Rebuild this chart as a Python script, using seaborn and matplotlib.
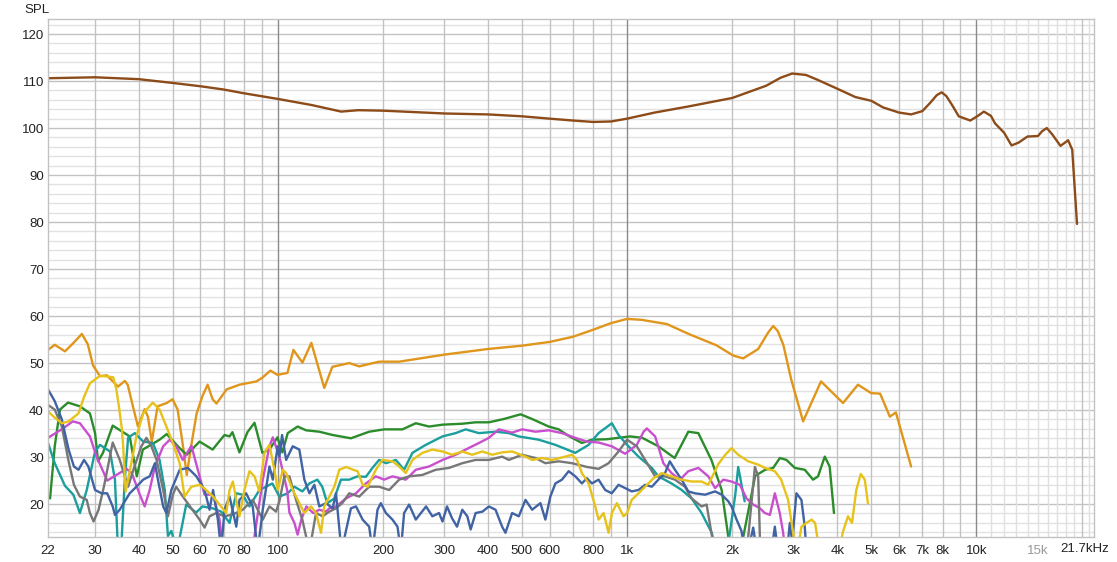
import numpy as np
import pandas as pd
import matplotlib
matplotlib.use('Agg')
import matplotlib.pyplot as plt
import seaborn as sns

# --- data (freq in Hz, SPL in dB) ---
brown_f = [22, 30, 40, 50, 60, 70, 80, 100, 125, 152, 170, 200, 300, 400, 500, 600, 700,
           800, 900, 1000, 1200, 1500, 2000, 2500, 2750, 2968, 3250, 3500, 3960, 4500, 5000,
           5400, 6000, 6500, 7000, 7400, 7700, 7950, 8200, 8500, 8900, 9600, 10100, 10500,
           11000, 11300, 12000, 12600, 13200, 14000, 15000, 15400, 15900, 16500, 17400, 18300,
           18800, 19400]
brown_db = [110.6, 110.8, 110.4, 109.6, 108.9, 108.2, 107.4, 106.2, 104.9, 103.5, 103.8, 103.7,
            103.1, 102.9, 102.5, 102.0, 101.6, 101.3, 101.4, 102.0, 103.3, 104.6, 106.4, 109.0,
            110.7, 111.6, 111.3, 110.3, 108.5, 106.6, 105.8, 104.4, 103.3, 102.9, 103.6, 105.5,
            107.0, 107.6, 106.8, 105.0, 102.5, 101.6, 102.6, 103.5, 102.6, 101.0, 99.0, 96.3,
            96.9, 98.2, 98.3, 99.3, 100.0, 98.6, 96.2, 97.4, 95.4, 79.6]

orange_f = [22, 23.0, 24.6, 25.8, 27.5, 28.6, 29.6, 31.0, 32.4, 34.9, 36.5, 37.2, 38.5, 39.8,
            41.6, 42.5, 43.6, 45.3, 48.1, 50.0, 51.7, 53.4, 54.9, 56.7, 58.6, 60.9, 63.0, 65.1,
            66.8, 71.4, 77.7, 86.9, 90.4, 95.3, 99.8, 106.6, 110.9, 117.7, 124.8, 135.9, 143.3,
            160.2, 171.1, 195.1, 222.6, 300, 400, 500, 600, 700, 800, 900, 1000, 1100, 1300,
            1500, 1800, 2013, 2150, 2373, 2534, 2620, 2700, 2800, 2950, 3190, 3590, 4150, 4580,
            5000, 5300, 5650, 5880, 6500]
orange_db = [52.8, 53.9, 52.5, 54.0, 56.2, 54.0, 49.5, 47.2, 47.4, 45.0, 46.2, 45.4, 40.8, 36.5,
             40.2, 38.6, 33.3, 40.8, 41.5, 42.3, 40.1, 33.0, 26.2, 33.0, 39.3, 43.0, 45.4, 42.3,
             41.4, 44.4, 45.4, 46.1, 46.9, 48.4, 47.5, 47.9, 52.8, 50.1, 54.3, 44.7, 49.2, 50.0,
             49.3, 50.3, 50.3, 51.8, 53.0, 53.7, 54.5, 55.6, 57.1, 58.5, 59.4, 59.2, 58.3, 56.2,
             53.8, 51.6, 51.0, 53.0, 56.5, 57.9, 56.8, 53.9, 46.5, 37.6, 46.1, 41.5, 45.4, 43.6,
             43.5, 38.6, 39.5, 28.0]

green_f = [22.3, 23.0, 23.8, 25.1, 27.15, 29.0, 30.0, 30.6, 31.6, 33.7, 37.7, 39.5, 41.1, 45.9,
           48.1, 52.4, 54.9, 59.75, 65.1, 70.4, 72.8, 74.2, 77.7, 81.9, 85.8, 90.4, 94.7, 99.8,
           103.1, 106.8, 114.0, 120.5, 131.5, 143.6, 162.0, 182.7, 201.7, 227.5, 248.4, 271.1,
           296.6, 337.5, 368.5, 402.2, 443.8, 495.5, 534.8, 596.6, 637.1, 680.4, 742.5, 793,
           876, 1020, 1105, 1229, 1368, 1497, 1599, 1743, 1865, 1948, 2040, 2150, 2326, 2484,
           2619, 2737, 2859, 3020, 3226, 3406, 3520, 3680, 3800, 3910]
green_db = [21.2, 32.3, 40.1, 41.6, 40.8, 39.3, 35.1, 29.1, 30.9, 36.7, 34.4, 25.9, 31.6, 33.7,
            34.9, 31.9, 30.5, 33.3, 31.6, 34.7, 34.4, 35.3, 31.0, 35.3, 37.3, 30.9, 31.6, 34.2,
            31.0, 35.1, 36.5, 35.7, 35.4, 34.7, 34.0, 35.4, 35.9, 35.9, 37.2, 36.5, 36.9, 37.1,
            37.4, 37.4, 38.1, 39.1, 38.1, 36.5, 35.9, 34.5, 33.0, 33.7, 33.8, 34.4, 34.1, 32.3,
            29.8, 35.4, 35.1, 29.4, 23.0, 13.1, 8.0, 13.0, 26.0, 27.3, 27.7, 29.8, 29.4, 27.7,
            27.3, 25.2, 25.9, 30.1, 28.0, 18.1]

teal_f = [22, 23.0, 24.6, 26.0, 27.15, 28.4, 30.0, 31.0, 33.1, 34.2, 34.9, 35.6, 36.5, 37.3,
          39.0, 41.2, 43.9, 45.9, 47.5, 48.5, 49.6, 51.5, 54.7, 58.4, 60.9, 65.1, 68.9, 72.8,
          76.1, 79.4, 83.0, 88.6, 92.6, 96.5, 101.1, 106.8, 111.6, 117.6, 123.2, 129.9, 134.1,
          138.6, 145.2, 151.7, 160.2, 169.2, 178.8, 186.7, 195.1, 204.0, 217.8, 230.0, 242.9,
          265.2, 296.2, 323.1, 345.0, 376.6, 420.2, 458.7, 489.8, 558.6, 623.5, 710.9, 776,
          828.7, 904.7, 945.2, 1000, 1078, 1177, 1229, 1340, 1433, 1530, 1634, 1747, 1824,
          1935, 2040, 2080, 2170]
teal_db = [33.0, 28.7, 23.9, 22.0, 18.1, 23.0, 31.2, 32.6, 31.2, 25.2, 10.0, 10.0, 25.2, 34.1,
           35.1, 33.3, 33.0, 29.4, 23.0, 13.2, 14.3, 10.0, 19.9, 18.2, 19.5, 19.1, 18.4, 16.0,
           22.3, 22.0, 19.5, 23.0, 23.7, 24.4, 21.6, 22.3, 23.7, 22.7, 24.4, 25.2, 23.7, 20.2,
           21.2, 25.2, 25.2, 25.9, 25.8, 27.7, 29.4, 28.7, 29.4, 27.3, 30.9, 32.6, 34.4, 35.1,
           35.9, 35.1, 35.4, 35.1, 34.4, 33.7, 32.6, 30.9, 32.6, 35.1, 37.2, 34.7, 32.6, 30.1,
           27.7, 25.9, 24.4, 23.0, 21.2, 18.1, 13.9, 8.0, 10.0, 22.0, 27.9, 20.6]

magenta_f = [22, 24.3, 25.9, 27.15, 29.0, 30.3, 32.5, 36.9, 38.2, 40.3, 41.6, 43.0, 44.5, 47.0,
             49.1, 51.2, 53.5, 56.6, 59.75, 61.75, 65.3, 68.15, 69.7, 80.3, 84.6, 90.6, 94.7,
             96.8, 101.1, 106.4, 108.0, 111.6, 114.0, 116.8, 120.8, 126.3, 131.5, 137.5, 140.5,
             146.8, 156.8, 167.5, 178.8, 190.9, 201.7, 213.0, 232.6, 248.4, 271.1, 296.6, 323.1,
             345.0, 376.6, 402.2, 429.5, 468.7, 500.5, 546.7, 596.6, 651.0, 710.9, 767.5, 828.7,
             904.0, 987.5, 1066, 1115, 1139, 1203, 1270, 1340, 1418, 1497, 1599, 1708, 1786,
             1885, 1990, 2103, 2198, 2296, 2400, 2479, 2563, 2648, 2735, 2797, 2853]
magenta_db = [34.1, 36.1, 37.6, 37.2, 34.4, 30.1, 25.0, 27.5, 26.6, 22.0, 19.5, 23.0, 28.0,
              32.3, 33.7, 32.3, 29.4, 32.4, 25.9, 22.0, 22.0, 16.7, 10.0, 8.0, 10.0, 25.2, 32.3,
              34.2, 30.1, 23.0, 18.2, 16.0, 13.5, 16.7, 19.5, 18.1, 18.8, 18.4, 19.1, 19.5, 21.2,
              22.3, 24.4, 25.9, 25.2, 25.9, 25.2, 27.3, 28.0, 29.4, 30.5, 31.6, 33.0, 34.1, 35.9,
              35.2, 35.9, 35.4, 35.7, 35.1, 34.1, 33.3, 33.1, 32.3, 30.7, 32.6, 35.4, 36.1, 34.4,
              28.7, 26.6, 25.2, 27.0, 27.7, 25.9, 23.4, 25.2, 24.8, 24.1, 21.2, 19.9, 19.1, 18.1,
              17.7, 22.3, 18.1, 13.9, 8.0]

gray_f = [22, 23.0, 24.1, 25.2, 26.1, 27.15, 28.4, 29.0, 29.7, 30.7, 31.8, 33.7, 35.3, 37.3,
          38.5, 40.7, 42.1, 43.5, 45.0, 47.0, 48.5, 50.1, 51.2, 53.5, 56.6, 59.75, 61.75, 63.8,
          66.7, 70.4, 74.4, 79.4, 84.8, 90.6, 94.7, 98.9, 101.1, 104.5, 108.0, 112.8, 117.6,
          123.2, 128.7, 134.4, 140.5, 146.8, 153.0, 160.2, 171.1, 182.7, 195.1, 208.4, 222.6,
          237.7, 259.4, 283.3, 309.2, 337.5, 368.5, 402.2, 438.8, 458.7, 500.5, 546.7, 583.6,
          637.1, 695.6, 767.5, 828.7, 885.0, 945.2, 1000, 1066, 1126, 1203, 1284, 1371, 1464,
          1530, 1634, 1689, 1743, 1800, 2150, 2222, 2322, 2373, 2405]
gray_db = [41.1, 40.1, 36.5, 29.1, 24.1, 21.6, 20.9, 18.1, 16.3, 18.8, 23.7, 33.1, 29.4, 23.7,
           27.0, 32.3, 34.1, 32.3, 29.4, 23.0, 17.4, 22.0, 23.7, 21.6, 19.1, 16.7, 15.0, 17.4,
           18.1, 17.4, 17.8, 18.8, 20.9, 16.7, 19.5, 18.4, 20.6, 25.9, 25.9, 20.9, 16.7, 10.0,
           18.1, 17.4, 18.4, 19.1, 20.2, 22.3, 21.6, 23.7, 23.7, 23.0, 25.2, 25.9, 26.2, 27.3,
           27.7, 28.7, 29.4, 29.4, 30.1, 29.4, 30.5, 29.8, 28.7, 29.1, 28.7, 27.9, 27.5, 28.7,
           31.2, 33.7, 32.3, 29.4, 25.9, 25.9, 25.2, 23.7, 21.2, 19.5, 19.9, 13.9, 8.0, 8.0,
           13.0, 27.9, 25.9, 10.0]

blue_f = [22, 23.0, 24.1, 25.2, 26.1, 26.9, 27.9, 28.7, 30.0, 31.3, 32.5, 33.7, 34.2, 35.3,
          37.7, 39.4, 41.2, 43.0, 44.5, 45.4, 47.0, 48.0, 49.6, 52.4, 55.3, 58.5, 61.75, 63.8,
          65.3, 67.4, 68.9, 70.4, 72.8, 76.1, 77.7, 81.2, 84.8, 87.6, 90.6, 94.7, 96.8, 100.0,
          101.1, 102.9, 105.7, 110.4, 115.3, 119.2, 123.2, 127.3, 131.5, 137.4, 143.6, 146.8,
          152.2, 162.0, 167.5, 175.0, 182.7, 186.8, 193.0, 197.3, 204.0, 213.0, 220.2, 225.1,
          230.0, 237.7, 248.4, 256.9, 265.8, 277.1, 289.5, 296.2, 305.2, 315.4, 326.0, 337.5,
          348.9, 356.6, 368.5, 385.5, 402.2, 420.2, 438.8, 448.6, 468.7, 489.8, 511.8, 534.8,
          564.8, 583.6, 603.0, 623.5, 651.0, 680.4, 710.9, 742.5, 767.0, 793.0, 828.7, 865.6,
          904.0, 945.2, 987.5, 1031, 1078, 1126, 1177, 1229, 1284, 1325, 1371, 1433, 1497, 1563,
          1671, 1786, 1865, 1948, 1990, 2058, 2125, 2192, 2296, 2373, 2568, 2648, 2724, 2852,
          2923, 2967, 3053, 3155, 3225, 3275]
blue_db = [44.4, 41.9, 38.0, 31.6, 28.0, 27.3, 29.4, 28.0, 23.0, 22.3, 22.3, 19.5, 17.7, 18.8,
           22.3, 23.7, 25.2, 25.9, 28.7, 25.2, 19.5, 18.1, 23.0, 27.3, 27.7, 25.9, 23.0, 18.8,
           23.0, 16.7, 10.0, 18.8, 21.6, 15.2, 20.9, 22.3, 19.5, 10.0, 18.8, 28.0, 25.2, 32.3,
           30.1, 34.7, 29.4, 32.3, 31.6, 25.2, 22.3, 24.1, 19.5, 20.2, 19.1, 22.3, 10.0, 19.1,
           19.5, 16.7, 15.2, 10.0, 18.8, 20.2, 18.1, 16.7, 15.2, 10.0, 18.1, 19.9, 16.7, 18.1,
           19.5, 17.4, 18.1, 16.3, 19.5, 17.0, 15.2, 18.8, 17.4, 14.6, 18.1, 18.4, 19.5, 18.8,
           15.2, 13.9, 18.1, 17.4, 20.9, 18.8, 20.2, 16.7, 21.6, 24.4, 25.2, 27.0, 25.9, 24.4,
           25.5, 24.4, 25.2, 23.0, 22.3, 24.1, 23.4, 22.7, 23.0, 24.1, 23.7, 25.2, 26.6, 29.1,
           27.3, 25.2, 22.7, 22.3, 22.0, 22.7, 22.0, 20.6, 19.5, 16.7, 14.3, 8.0, 15.0, 8.0,
           8.0, 15.2, 8.0, 8.0, 16.0, 12.0, 22.3, 20.9, 15.2, 8.0]

yellow_f = [22, 23.0, 24.1, 25.2, 26.9, 27.9, 29.0, 31.0, 33.8, 34.5, 35.1, 35.8, 36.1, 36.7,
            38.1, 39.4, 41.2, 43.9, 45.9, 48.0, 50.1, 52.4, 54.1, 56.6, 59.75, 62.4, 65.3,
            68.15, 71.2, 72.8, 74.4, 76.7, 77.7, 80.3, 83.0, 85.8, 88.6, 91.6, 94.7, 97.8,
            100.0, 103.4, 105.7, 110.4, 115.3, 119.2, 124.6, 128.7, 133.0, 135.9, 140.5, 145.2,
            150.0, 157.0, 164.3, 169.3, 175.0, 181.0, 190.9, 199.5, 213.0, 222.6, 232.6, 243.0,
            259.5, 277.1, 296.2, 315.4, 337.5, 360.4, 385.0, 411.0, 438.8, 468.7, 511.8, 534.8,
            570.5, 609.9, 665.5, 695.6, 718.7, 742.5, 776.0, 810.6, 828.7, 856.4, 885.0, 904.5,
            935.0, 976.7, 1000, 1031, 1078, 1126, 1190, 1257, 1340, 1433, 1530, 1634, 1708, 1824,
            1910, 1990, 2080, 2222, 2373, 2479, 2648, 2760, 2890, 2987, 3048, 3155, 3262, 3374,
            3451, 3520, 3638, 4015, 4140, 4288, 4403, 4530, 4665, 4790, 4890]
yellow_db = [39.7, 38.4, 37.2, 37.6, 39.3, 42.8, 45.7, 47.3, 47.0, 44.5, 40.8, 36.0, 32.3, 22.7,
             28.7, 34.4, 39.3, 41.6, 40.1, 36.5, 33.0, 28.7, 21.6, 23.7, 24.1, 23.0, 21.6, 19.9,
             18.1, 23.0, 24.8, 19.5, 17.4, 23.0, 27.0, 25.9, 22.7, 30.9, 32.6, 27.3, 23.0, 27.3,
             26.6, 23.0, 20.2, 18.1, 19.5, 18.1, 13.9, 19.5, 21.6, 23.7, 27.3, 27.9, 27.3, 27.0,
             24.1, 23.7, 27.3, 29.4, 29.1, 28.0, 26.6, 29.4, 30.9, 31.6, 31.2, 30.5, 31.2, 30.5,
             31.2, 30.5, 31.0, 31.2, 30.1, 29.4, 29.8, 29.4, 30.1, 30.5, 29.4, 26.6, 24.4, 19.5,
             16.7, 18.1, 13.9, 18.1, 20.2, 17.4, 18.1, 20.9, 22.3, 23.7, 25.5, 26.6, 25.9, 25.2,
             24.8, 24.8, 24.1, 28.5, 30.5, 31.9, 30.5, 29.1, 28.4, 27.7, 27.0, 25.2, 20.9, 13.9,
             8.0, 15.2, 16.0, 16.7, 16.0, 12.0, 8.0, 8.0, 13.9, 17.4, 16.0, 23.0, 26.4, 25.2,
             20.2]

curve_names = ['brown', 'orange', 'green', 'teal', 'magenta', 'gray', 'blue', 'yellow']
curve_colors = ['#8c4b19', '#e0951b', '#2b8c2b', '#1a9e9e', '#c94fcf', '#777777', '#4063a3', '#e6c21a']
freq_lists = [brown_f, orange_f, green_f, teal_f, magenta_f, gray_f, blue_f, yellow_f]
spl_lists = [brown_db, orange_db, green_db, teal_db, magenta_db, gray_db, blue_db, yellow_db]

x_ticks = [22, 30, 40, 50, 60, 70, 80, 100, 200, 300, 400, 500, 600, 800, 1000,
           2000, 3000, 4000, 5000, 6000, 7000, 8000, 10000, 15000]
x_labels = ['22', '30', '40', '50', '60', '70', '80', '100', '200', '300', '400', '500', '600',
            '800', '1k', '2k', '3k', '4k', '5k', '6k', '7k', '8k', '10k', '15k']
y_ticks = [20, 30, 40, 50, 60, 70, 80, 90, 100, 110, 120]

# long-form table for seaborn
rows = []
for name, fl, dl in zip(curve_names, freq_lists, spl_lists):
    for f, d in zip(fl, dl):
        rows.append((name, f, d))
df = pd.DataFrame(rows, columns=['curve', 'freq', 'spl'])

sns.set_theme(style='white')
plt.rcParams['font.family'] = ['Liberation Sans', 'DejaVu Sans']

fig = plt.figure(figsize=(11.17, 5.62), dpi=100)
ax = fig.add_axes([48 / 1117, 25 / 562, 1046 / 1117, 518 / 562])
ax.set_xscale('log')
ax.set_xlim(22, 21700)
ax.set_ylim(13, 123.2)

# grid: horizontal first, vertical on top of it
for v in range(14, 124, 2):
    if v % 10 == 0:
        ax.axhline(v, color='#c2c2c2', lw=1, zorder=0.2)
    else:
        ax.axhline(v, color='#e2e2e2', lw=1, zorder=0.1)
for v in list(range(11000, 20000, 1000)) + [21000]:
    ax.axvline(v, color='#e0e0e0', lw=1, zorder=0.3)
for v in [30, 40, 50, 60, 70, 80, 90] + list(range(200, 1000, 100)) + list(range(2000, 10000, 1000)) + [20000]:
    ax.axvline(v, color='#c2c2c2', lw=1, zorder=0.4)
for v in [100, 1000, 10000]:
    ax.axvline(v, color='#8a8a8a', lw=1, zorder=0.5)

sns.lineplot(data=df, x='freq', y='spl', hue='curve', hue_order=curve_names,
             palette=dict(zip(curve_names, curve_colors)), estimator=None, sort=False,
             legend=False, lw=1.7, ax=ax)

ax.set_xticks(x_ticks)
ax.set_xticklabels(x_labels)
ax.xaxis.set_minor_locator(matplotlib.ticker.NullLocator())
ax.set_yticks(y_ticks)
ax.set_yticklabels([str(v) for v in y_ticks])
ax.tick_params(axis='both', length=0, labelsize=9.5, labelcolor='#222222')
ax.tick_params(axis='x', pad=6)
ax.tick_params(axis='y', pad=3)
ax.get_xticklabels()[-1].set_color('#999999')
ax.set_xlabel('')
ax.set_ylabel('')
for s in ax.spines.values():
    s.set_color('#c2c2c2')
    s.set_linewidth(1)

ax.annotate('21.7kHz', xy=(21700, 0), xycoords=('data', 'axes fraction'),
            xytext=(15, -12), textcoords='offset pixels', ha='right', va='center',
            fontsize=9.5, color='#222222')
fig.text(37 / 1117, 1 - 10 / 562, 'SPL', ha='center', va='center', fontsize=9.5, color='#222222')

fig.savefig('out.png', dpi=100)
